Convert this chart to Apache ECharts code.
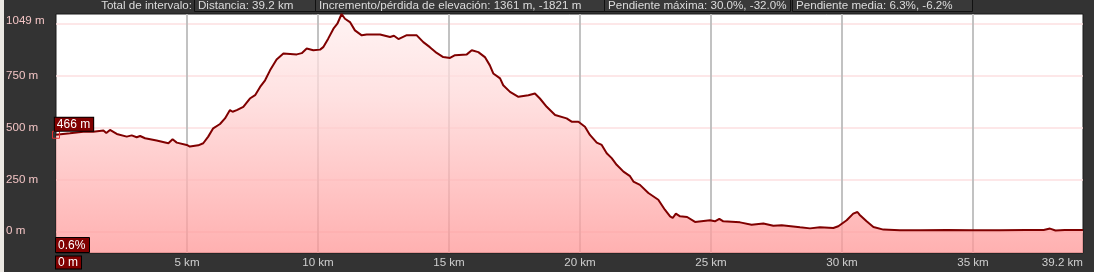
<!DOCTYPE html>
<html><head><meta charset="utf-8">
<script src="https://cdn.jsdelivr.net/npm/echarts@6/dist/echarts.min.js"></script>
<style>html,body{margin:0;padding:0;background:#333;overflow:hidden}#c{width:1094px;height:272px;}</style>
</head><body><div id="c"></div>
<script>
const distKm = [0.00,0.53,1.04,1.42,1.81,1.92,2.06,2.32,2.70,2.89,3.08,3.21,3.40,3.84,4.29,4.45,4.61,4.99,5.11,5.43,5.62,5.81,6.00,6.26,6.45,6.64,6.74,6.90,7.15,7.40,7.60,7.79,7.98,8.17,8.42,8.68,9.19,9.38,9.57,9.82,10.08,10.20,10.39,10.59,10.74,10.90,11.03,11.22,11.41,11.67,11.86,12.37,12.75,12.90,13.07,13.39,13.77,14.02,14.27,14.53,14.78,15.04,15.23,15.68,15.87,16.12,16.37,16.56,16.69,16.95,17.07,17.33,17.65,18.03,18.28,18.47,18.73,19.05,19.49,19.68,19.94,20.19,20.38,20.64,20.83,21.02,21.21,21.40,21.66,21.91,22.04,22.29,22.61,22.99,23.24,23.44,23.54,23.66,23.82,24.09,24.39,24.96,25.15,25.32,25.47,26.11,26.55,27.00,27.38,27.70,28.40,28.78,29.16,29.67,29.86,30.18,30.43,30.59,30.67,30.94,31.20,31.58,32.21,33.00,34.00,35.00,36.00,37.00,37.70,37.94,38.15,38.50,39.20];
const elevM = [466,473,481,481,486,474,489,470,457,463,454,460,449,438,425,444,428,417,409,415,425,457,497,518,545,585,577,585,601,641,657,697,729,777,829,858,854,860,882,874,877,889,930,978,1002,1049,1026,1010,970,946,950,950,938,944,928,947,946,913,889,861,841,837,850,854,874,865,841,801,762,738,705,673,649,657,665,641,601,561,545,529,529,505,465,428,417,377,353,321,288,266,240,224,185,152,104,72,64,85,72,69,45,53,48,60,48,43,32,38,27,29,19,14,19,16,24,53,85,93,80,48,21,8,5,5,6,5,5,6,6,13,4,6,6];
const xGridValues = [5,10,15,20,25,30,35];
const xLabelValues = [0,5,10,15,20,25,30,35,39.2];
const yGridValues = [0,250,500,750,1000];
const yLabelValues = [0,250,500,750,1049];
const summaryLead = 'Total de intervalo:';
const summaryBoxes = ['Distancia: 39.2 km','Incremento/pérdida de elevación: 1361 m, -1821 m','Pendiente máxima: 30.0%, -32.0%','Pendiente media: 6.3%, -6.2%'];
const startSlope = '0.6%';

const FONT = '"Liberation Sans", Arial, sans-serif';
const FS = 11.6;
const boxGeom = [[194,121],[315,289],[604,186],[792,180]];
const graphics = [
  {type:'rect', shape:{x:0,y:0,width:4,height:272}, style:{fill:'#ebe8e3'}, z:10},
  {type:'text', x:192, y:6, style:{text:summaryLead, fill:'#dcdcdc', font:FS+'px '+FONT, align:'right', verticalAlign:'middle'}, z:10}
];
summaryBoxes.forEach((t,i)=>{
  const [bx,bw] = boxGeom[i];
  graphics.push({type:'rect', shape:{x:bx+0.5,y:-1.5,width:bw,height:13}, style:{fill:'#393939', stroke:'#111', lineWidth:1}, z:10});
  graphics.push({type:'text', x:bx+4, y:6, style:{text:t, fill:'#dcdcdc', font:FS+'px '+FONT, align:'left', verticalAlign:'middle'}, z:11});
});
graphics.push({type:'rect', shape:{x:55.5,y:237.5,width:34,height:15}, style:{fill:'#800000', stroke:'#000', lineWidth:1}, z:10});
graphics.push({type:'text', x:58, y:245.5, style:{text:startSlope, fill:'#fff', font:'12px '+FONT, align:'left', verticalAlign:'middle'}, z:11});

const chart = echarts.init(document.getElementById('c'), null, {renderer:'canvas'});
chart.setOption({
  backgroundColor:'#333',
  animation:false,
  grid:{left:56, right:11, top:14, bottom:19, show:true, backgroundColor:'#fff', borderColor:'#1a1a1a', borderWidth:1},
  xAxis:{type:'value', min:0, max:39.2,
    axisLine:{show:false}, axisTick:{show:false, customValues:xGridValues},
    splitLine:{show:true, lineStyle:{color:'#bcbcbc', width:1.8}},
    axisLabel:{customValues:xLabelValues, color:'#cfcfcf', fontSize:FS, fontFamily:FONT, margin:2, lineHeight:15,
      alignMinLabel:'left', alignMaxLabel:'right',
      formatter: v => v===0 ? '{z|0 m}' : v+' km',
      rich:{z:{backgroundColor:'#800000', borderColor:'#000', borderWidth:1, color:'#fff', fontSize:12, fontFamily:FONT, padding:[0,3,0,2], lineHeight:15}}}
  },
  yAxis:{type:'value', min:-104.9, max:1049,
    axisLine:{show:false}, axisTick:{show:false, customValues:yGridValues},
    splitLine:{show:true, lineStyle:{color:'#fcdfe1', width:1.6}},
    axisLabel:{customValues:yLabelValues, align:'left', margin:50, color:'#f2c4c4', fontSize:FS, fontFamily:FONT,
      formatter: v => v===yLabelValues[yLabelValues.length-1] ? '{t|'+v+' m}' : v+' m',
      rich:{t:{padding:[14,0,0,0], color:'#f2c4c4', fontSize:FS, fontFamily:FONT}}}
  },
  series:[{
    type:'line', showSymbol:false, symbol:'none', clip:false,
    data: distKm.map((d,i)=>[d, elevM[i]]),
    lineStyle:{color:'#800000', width:2},
    areaStyle:{origin:'start', opacity:1, color:new echarts.graphic.LinearGradient(0,0,0,1,[
      {offset:0,color:'rgba(255,240,240,0.75)'},{offset:0.35,color:'rgba(255,215,215,0.75)'},{offset:1,color:'rgba(255,150,150,0.75)'}])},
    markPoint:{
      symbol:'rect', symbolSize:7, silent:true,
      itemStyle:{color:'rgba(0,0,0,0)', borderColor:'#e03030', borderWidth:1},
      label:{show:true, position:'top', distance:0, offset:[18,0], formatter:p=>p.value+' m',
        backgroundColor:'#800000', borderColor:'#000', borderWidth:1, color:'#fff', fontSize:12, fontFamily:FONT, padding:[1,3,0,2]},
      data:[{coord:[distKm[0], elevM[0]], value:elevM[0]}]
    }
  }],
  graphic: graphics
});
</script></body></html>
